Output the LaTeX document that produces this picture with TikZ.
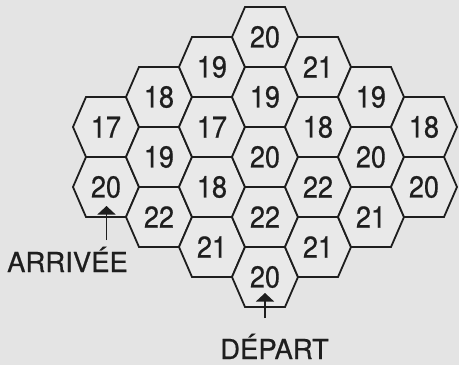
\documentclass[tikz,border=0pt]{standalone}
\usepackage{fontspec}
\setmainfont{TeX Gyre Heros}[FakeBold=0.6]
\usetikzlibrary{arrows.meta}
\definecolor{bgcol}{RGB}{228,228,228}
\definecolor{hexfill}{RGB}{233,233,233}
\definecolor{inkcol}{RGB}{30,30,30}
\newcommand{\hexcell}[4]{%
  \draw[hexline] (#2-33,#3) -- (#2-20,#3-30) -- (#2+20,#3-30) -- (#2+33,#3)
    -- (#2+20,#3+30) -- (#2-20,#3+30) -- cycle;
  \node[numtext] (#1) at (#2,#3) {\scalebox{1}[1.12]{#4}};}
\begin{document}
\begin{tikzpicture}[x=1pt,y=-1pt,
  hexline/.style={draw=inkcol,line width=1.8pt,fill=hexfill,line join=miter},
  numtext/.style={inner sep=0pt,text=inkcol,font=\fontsize{27}{30}\selectfont},
  labeltext/.style={inner sep=0pt,anchor=base,text=inkcol,font=\fontsize{27.5}{30}\selectfont},
  pointer/.style={draw=inkcol,line width=1.4pt,-{Triangle[width=18pt,length=8.5pt]}}]
\fill[bgcol] (0,0) rectangle (459,365);
\useasboundingbox (0,0) rectangle (459,365);
% column 0
\hexcell{c0a}{106}{127}{17}
\hexcell{c0b}{106}{187}{20}
% column 1
\hexcell{c1a}{159}{97}{18}
\hexcell{c1b}{159}{157}{19}
\hexcell{c1c}{159}{217}{22}
% column 2
\hexcell{c2a}{212}{67}{19}
\hexcell{c2b}{212}{127}{17}
\hexcell{c2c}{212}{187}{18}
\hexcell{c2d}{212}{247}{21}
% column 3
\hexcell{c3a}{265}{37}{20}
\hexcell{c3b}{265}{97}{19}
\hexcell{c3c}{265}{157}{20}
\hexcell{c3d}{265}{217}{22}
\hexcell{c3e}{265}{277}{20}
% column 4
\hexcell{c4a}{318}{67}{21}
\hexcell{c4b}{318}{127}{18}
\hexcell{c4c}{318}{187}{22}
\hexcell{c4d}{318}{247}{21}
% column 5
\hexcell{c5a}{371}{97}{19}
\hexcell{c5b}{371}{157}{20}
\hexcell{c5c}{371}{217}{21}
% column 6
\hexcell{c6a}{424}{127}{18}
\hexcell{c6b}{424}{187}{20}
% labels
\node[labeltext] (arr) at (67.5,272) {ARRIVÉE};
\node[labeltext] (dep) at (274.5,359) {DÉPART};
\coordinate (arrfoot) at (106.5,240);
\coordinate (arrtip) at (106.5,206);
\coordinate (depfoot) at (265,318);
\coordinate (deptip) at (265,293);
\draw[pointer] (arrfoot) -- (arrtip);
\draw[pointer] (depfoot) -- (deptip);
\end{tikzpicture}
\end{document}
